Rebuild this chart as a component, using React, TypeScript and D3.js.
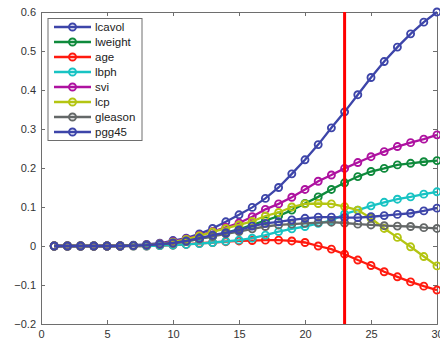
import React, { useEffect, useRef } from 'react';
import * as d3 from 'd3';

// regularization path, step 1..30
const steps = d3.range(1, 31);

const lcavol = [0, 0, 0, 0, 0, 0.001, 0.002, 0.004, 0.007, 0.014, 0.020, 0.031, 0.045, 0.062, 0.080, 0.099, 0.122, 0.150, 0.185, 0.221, 0.260, 0.303, 0.344, 0.388, 0.432, 0.473, 0.510, 0.544, 0.574, 0.600];
const lweight = [0, 0, 0, 0, 0, 0, 0.001, 0.002, 0.004, 0.007, 0.012, 0.018, 0.025, 0.034, 0.043, 0.054, 0.065, 0.077, 0.092, 0.109, 0.126, 0.145, 0.162, 0.178, 0.191, 0.199, 0.208, 0.212, 0.216, 0.219];
const age = [0, 0, 0, 0, 0, 0, 0, 0, 0.001, 0.002, 0.004, 0.007, 0.009, 0.011, 0.013, 0.014, 0.015, 0.015, 0.013, 0.009, 0.000, -0.008, -0.021, -0.036, -0.050, -0.066, -0.079, -0.092, -0.103, -0.113];
const lbph = [0, 0, 0, 0, 0, 0, 0, 0, 0.001, 0.002, 0.004, 0.006, 0.009, 0.012, 0.015, 0.020, 0.028, 0.037, 0.044, 0.050, 0.058, 0.065, 0.082, 0.092, 0.103, 0.112, 0.120, 0.126, 0.133, 0.139];
const svi = [0, 0, 0, 0, 0, 0, 0.001, 0.003, 0.006, 0.011, 0.018, 0.027, 0.037, 0.048, 0.059, 0.075, 0.094, 0.108, 0.125, 0.145, 0.166, 0.182, 0.199, 0.214, 0.229, 0.242, 0.255, 0.265, 0.274, 0.285];
const lcp = [0, 0, 0, 0, 0, 0, 0.001, 0.002, 0.005, 0.010, 0.017, 0.026, 0.036, 0.045, 0.054, 0.063, 0.077, 0.086, 0.100, 0.108, 0.109, 0.108, 0.101, 0.092, 0.071, 0.045, 0.022, -0.002, -0.027, -0.051];
const gleason = [0, 0, 0, 0, 0, 0, 0.001, 0.002, 0.004, 0.007, 0.012, 0.018, 0.025, 0.031, 0.037, 0.044, 0.050, 0.054, 0.056, 0.058, 0.060, 0.061, 0.059, 0.056, 0.054, 0.052, 0.051, 0.050, 0.047, 0.045];
const pgg45 = [0, 0, 0, 0, 0, 0, 0.001, 0.002, 0.005, 0.008, 0.013, 0.020, 0.028, 0.034, 0.041, 0.051, 0.058, 0.062, 0.067, 0.071, 0.074, 0.074, 0.073, 0.073, 0.075, 0.078, 0.081, 0.084, 0.090, 0.097];

const names = ['lcavol', 'lweight', 'age', 'lbph', 'svi', 'lcp', 'gleason', 'pgg45'];
const colors = ['#3d45a9', '#0f8a3c', '#ff1a0f', '#18c3c3', '#ae12a0', '#b4c512', '#646868', '#3d45a9'];
const seriesValues = [lcavol, lweight, age, lbph, svi, lcp, gleason, pgg45];

const xTicks = [0, 5, 10, 15, 20, 25, 30];
const yTicks = [-0.2, -0.1, 0, 0.1, 0.2, 0.3, 0.4, 0.5, 0.6];
const cutoff = 23;

const App = () => {
  const ref = useRef<SVGSVGElement>(null);

  useEffect(() => {
    const width = 440;
    const height = 343;
    const m = { left: 41, right: 3, top: 12, bottom: 19 };

    const svg = d3.select(ref.current);
    svg.selectAll('*').remove();

    const x = d3.scaleLinear().domain([0, 30]).range([m.left, width - m.right]);
    const y = d3.scaleLinear().domain([-0.2, 0.6]).range([height - m.bottom, m.top]);

    const axisColor = '#6e6e6e';
    const font = 'Liberation Sans, Arial, sans-serif';

    // axes box with inward ticks
    const bottom = svg.append('g').attr('transform', `translate(0,${y(-0.2)})`)
      .call(d3.axisBottom(x).tickValues(xTicks).tickSize(-4).tickPadding(6).tickFormat(d3.format('d')));
    const top = svg.append('g').attr('transform', `translate(0,${y(0.6)})`)
      .call(d3.axisTop(x).tickValues(xTicks).tickSize(-4).tickFormat(() => ''));
    const left = svg.append('g').attr('transform', `translate(${x(0)},0)`)
      .call(d3.axisLeft(y).tickValues(yTicks).tickSize(-4).tickPadding(5)
        .tickFormat((d) => (+d === 0 ? '0' : d3.format('.1f')(+d).replace('-', '\u2212'))));
    const right = svg.append('g').attr('transform', `translate(${x(30)},0)`)
      .call(d3.axisRight(y).tickValues(yTicks).tickSize(-4).tickFormat(() => ''));

    [bottom, top, left, right].forEach((g) => {
      g.select('.domain').attr('stroke', axisColor).attr('stroke-width', 1);
      g.selectAll('.tick line').attr('stroke', axisColor);
      g.selectAll('.tick text').attr('fill', '#333').style('font-family', font).style('font-size', '11px');
    });

    const line = d3.line<number>().x((_, i) => x(steps[i])).y((d) => y(d));

    seriesValues.forEach((vals, k) => {
      const g = svg.append('g');
      g.append('path').datum(vals).attr('d', line).attr('fill', 'none')
        .attr('stroke', colors[k]).attr('stroke-width', 2.3);
      g.selectAll('circle').data(vals).enter().append('circle')
        .attr('cx', (_, i) => x(steps[i])).attr('cy', (d) => y(d)).attr('r', 3.5)
        .attr('fill', 'none').attr('stroke', colors[k]).attr('stroke-width', 1.9);
    });

    // selected model
    svg.append('line')
      .attr('x1', x(cutoff)).attr('x2', x(cutoff))
      .attr('y1', y(0.6)).attr('y2', y(-0.2))
      .attr('stroke', '#ff0000').attr('stroke-width', 3);

    // legend
    const lg = svg.append('g');
    lg.append('rect').attr('x', 48).attr('y', 18.5).attr('width', 94).attr('height', 122)
      .attr('fill', 'white').attr('stroke', axisColor).attr('stroke-width', 1);
    names.forEach((n, k) => {
      const yy = 27 + k * 15;
      lg.append('line').attr('x1', 54).attr('x2', 91).attr('y1', yy).attr('y2', yy)
        .attr('stroke', colors[k]).attr('stroke-width', 2.3);
      lg.append('circle').attr('cx', 72.5).attr('cy', yy).attr('r', 3.5)
        .attr('fill', 'none').attr('stroke', colors[k]).attr('stroke-width', 1.9);
      lg.append('text').attr('x', 95).attr('y', yy).attr('dy', '0.35em')
        .style('font-family', font).style('font-size', '11.5px').attr('fill', '#222').text(n);
    });
  }, []);

  return (
    <svg ref={ref} width={440} height={343}
      style={{ position: 'absolute', left: 0, top: 0, background: 'white' }} />
  );
};

export default App;
